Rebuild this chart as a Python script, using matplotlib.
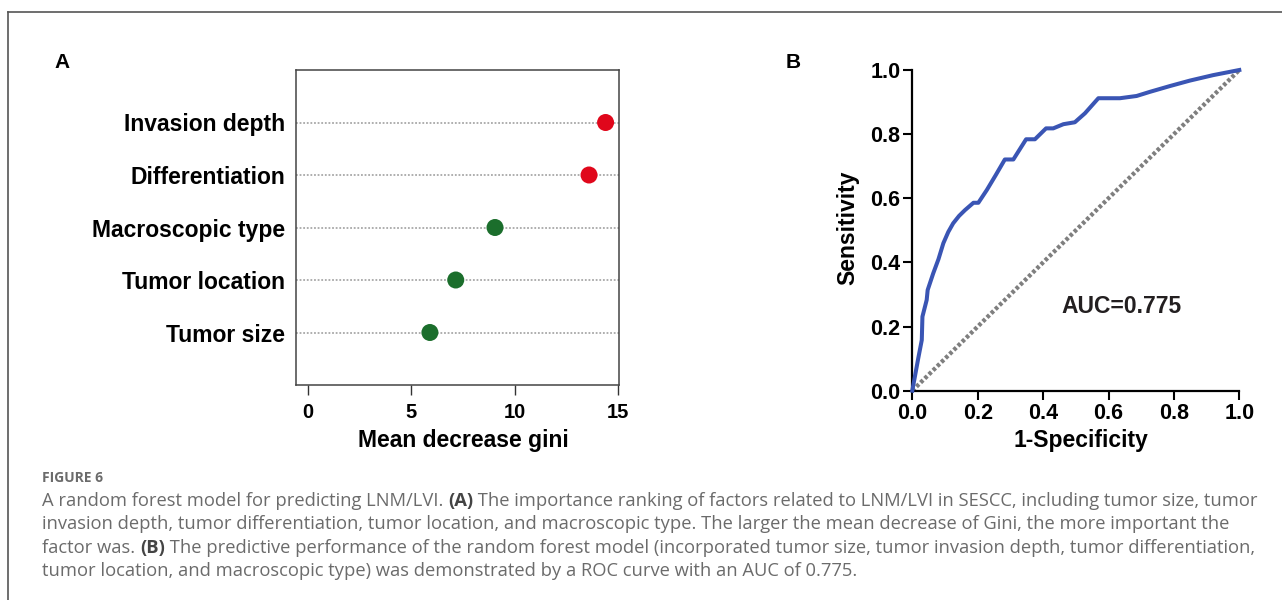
import matplotlib
matplotlib.use('Agg')
import matplotlib.pyplot as plt
from matplotlib.lines import Line2D
from matplotlib.font_manager import FontProperties

# panel A: random forest importance (dotchart)
factors = ['Tumor size', 'Tumor location', 'Macroscopic type', 'Differentiation', 'Invasion depth']
gini = [5.9, 7.15, 9.05, 13.6, 14.4]
dot_colors = ['#1b6e2c', '#1b6e2c', '#1b6e2c', '#e0071b', '#e0071b']
gini_ticks = [0, 5, 10, 15]

# panel B: ROC curve
roc_fpr = [0.0, 0.018, 0.029, 0.031, 0.044, 0.047, 0.064, 0.080, 0.095, 0.110, 0.125,
           0.143, 0.161, 0.187, 0.202, 0.228, 0.255, 0.283, 0.309, 0.348, 0.375,
           0.409, 0.431, 0.462, 0.497, 0.528, 0.569, 0.635, 0.686, 0.727, 0.788,
           0.849, 0.920, 1.0]
roc_tpr = [0.0, 0.100, 0.158, 0.231, 0.283, 0.314, 0.366, 0.410, 0.460, 0.495, 0.522,
           0.545, 0.563, 0.586, 0.586, 0.626, 0.672, 0.721, 0.721, 0.784, 0.784,
           0.818, 0.818, 0.831, 0.837, 0.865, 0.912, 0.912, 0.919, 0.932, 0.950,
           0.967, 0.984, 1.0]
roc_ticks = [0.0, 0.2, 0.4, 0.6, 0.8, 1.0]
auc_text = 'AUC=0.775'

caption_title = 'FIGURE 6'
caption_lines = [
    [('A random forest model for predicting LNM/LVI. ', 'normal'), ('(A)', 'bold'),
     (' The importance ranking of factors related to LNM/LVI in SESCC, including tumor size, tumor', 'normal')],
    [('invasion depth, tumor differentiation, tumor location, and macroscopic type. The larger the mean decrease of Gini, the more important the', 'normal')],
    [('factor was. ', 'normal'), ('(B)', 'bold'),
     (' The predictive performance of the random forest model (incorporated tumor size, tumor invasion depth, tumor differentiation,', 'normal')],
    [('tumor location, and macroscopic type) was demonstrated by a ROC curve with an AUC of 0.775.', 'normal')],
]

W, H = 1282, 600
plt.rcParams['font.family'] = ['Liberation Sans', 'DejaVu Sans']
plt.rcParams['font.weight'] = 'bold'
fig = plt.figure(figsize=(W / 100, H / 100), dpi=100)


def px_axes(left, top, right, bottom):
    return fig.add_axes([left / W, 1 - bottom / H, (right - left) / W, (bottom - top) / H])


# outer frame (top and left only)
fig.add_artist(Line2D([8 / W, 1], [1 - 12 / H, 1 - 12 / H], color='#555555', lw=1.2))
fig.add_artist(Line2D([8 / W, 8 / W], [1 - 12 / H, 0], color='#555555', lw=1.2))

# ---- panel A ----
axA = px_axes(296, 70, 619, 385)
ypos = list(range(1, len(factors) + 1))
for y in ypos:
    axA.plot([-0.58, 15.05], [y, y], color='#a8a8a8', lw=1.3, ls=(0, (1, 1)), zorder=1)
axA.scatter(gini, ypos, s=150, c=dot_colors, zorder=3, edgecolors='none')
axA.set_xlim(-0.58, 15.05)
axA.set_ylim(0, 6)
axA.set_yticks(ypos)
axA.set_yticklabels(factors, fontsize=16.5, fontweight='bold')
axA.tick_params(axis='y', left=False, pad=4.5)
axA.set_xticks(gini_ticks)
axA.set_xticklabels([str(t) for t in gini_ticks], fontsize=14.5, fontweight='bold')
axA.tick_params(axis='x', direction='out', length=7, width=1.0, color='#333333', pad=6)
for sp in axA.spines.values():
    sp.set_color('#444444')
    sp.set_linewidth(1.1)
axA.set_xlabel('Mean decrease gini', fontsize=16.5, fontweight='bold', va='center')
axA.xaxis.set_label_coords(0.517, -0.175)
fig.text(62 / W, 1 - 63 / H, 'A', fontsize=15, fontweight='bold', ha='center', va='center')

# ---- panel B ----
axB = px_axes(912.3, 70, 1239.3, 390.7)
axB.plot([0, 1], [0, 1], color='#7f7f7f', lw=3.1, ls=(0, (0.8, 0.55)), solid_capstyle='butt',
         clip_on=False, zorder=2)
axB.plot(roc_fpr, roc_tpr, color='#3a55b4', lw=2.9, clip_on=False, zorder=3,
         solid_joinstyle='round')
axB.set_xlim(0, 1)
axB.set_ylim(0, 1)
axB.set_xticks(roc_ticks)
axB.set_yticks(roc_ticks)
axB.set_xticklabels([f'{t:.1f}' for t in roc_ticks], fontsize=15.5, fontweight='bold')
axB.set_yticklabels([f'{t:.1f}' for t in roc_ticks], fontsize=15.5, fontweight='bold')
axB.tick_params(direction='out', length=6.5, width=1.5, pad=2)
axB.spines['top'].set_visible(False)
axB.spines['right'].set_visible(False)
for sp in ['left', 'bottom']:
    axB.spines[sp].set_linewidth(1.6)
axB.set_xlabel('1-Specificity', fontsize=16.5, fontweight='bold', va='center')
axB.xaxis.set_label_coords(0.516, -0.154)
axB.set_ylabel('Sensitivity', fontsize=16.5, fontweight='bold', va='center')
axB.yaxis.set_label_coords(-0.197, 0.507)
axB.text(0.64, 0.264, auc_text, fontsize=16.5, fontweight='bold', color='#231f20',
         ha='center', va='center', transform=axB.transAxes)
fig.text(793 / W, 1 - 63 / H, 'B', fontsize=15, fontweight='bold', ha='center', va='center')

# ---- caption ----
fig.text(42 / W, 1 - 478 / H, caption_title, fontsize=10, fontweight='bold', color='#6b6b6b',
         family='Open Sans', va='center')

renderer = fig.canvas.get_renderer()
cap_font = 'Open Sans'
cap_size = 13.2
line_y = [499, 522, 546, 569]
for yy, pieces in zip(line_y, caption_lines):
    x = 42
    for txt, weight in pieces:
        col = '#444444' if weight == 'bold' else '#6b6b6b'
        fig.text(x / W, 1 - (yy + 7) / H, txt, fontsize=cap_size, fontweight=weight, color=col,
                 family=cap_font, va='baseline')
        prop = FontProperties(family=cap_font, size=cap_size, weight=weight)
        w1, _, _ = renderer.get_text_width_height_descent(txt + '|', prop, ismath=False)
        w2, _, _ = renderer.get_text_width_height_descent('|', prop, ismath=False)
        x += w1 - w2

fig.savefig('out.png', dpi=100)
